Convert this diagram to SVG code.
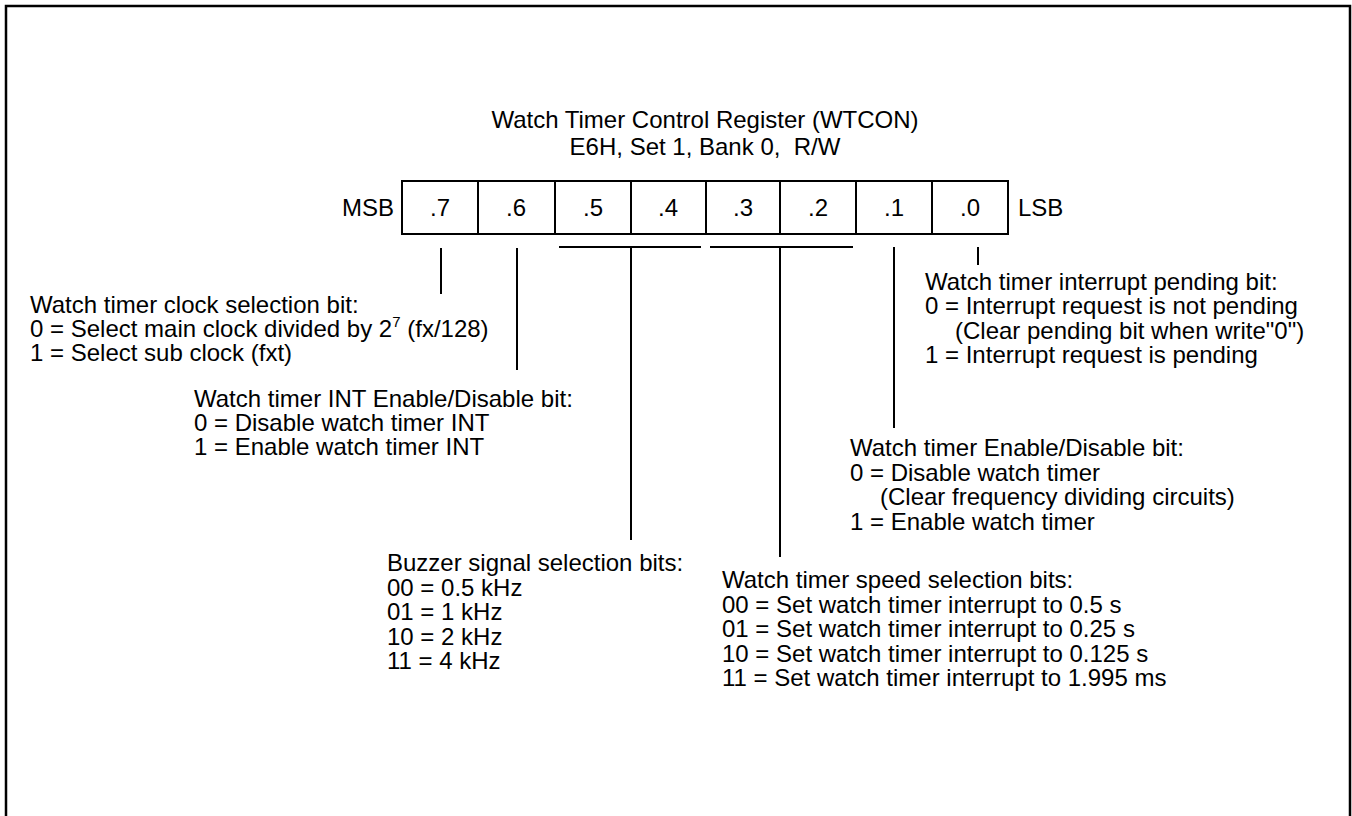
<svg xmlns="http://www.w3.org/2000/svg" width="1352" height="816" viewBox="0 0 1352 816">
<style>
text{font-family:"Liberation Sans",Arial,Helvetica,sans-serif;font-size:24px;fill:#000}
.c{text-anchor:middle}
.ln{stroke:#000;stroke-width:2;fill:none}
.frame{stroke:#000;stroke-width:2.5;fill:none}
.cell{stroke:#000;stroke-width:2;fill:#fff}
</style>
<rect width="1352" height="816" fill="#fff"/>
<path class="frame" d="M6,830 V6 H1350 V830"/>
<g id="title">
<text class="c" x="705" y="128">Watch Timer Control Register (WTCON)</text>
<text class="c" x="705" y="155" xml:space="preserve">E6H, Set 1, Bank 0,  R/W</text>
</g>
<g id="register">
<rect class="cell" x="402" y="181" width="606" height="53"/>
<path class="ln" d="M478,181V234M555,181V234M631,181V234M706,181V234M780,181V234M856,181V234M932,181V234"/>
<text x="342" y="216">MSB</text>
<text class="c" x="440" y="216">.7</text>
<text class="c" x="516" y="216">.6</text>
<text class="c" x="593" y="216">.5</text>
<text class="c" x="668" y="216">.4</text>
<text class="c" x="743" y="216">.3</text>
<text class="c" x="818" y="216">.2</text>
<text class="c" x="894" y="216">.1</text>
<text class="c" x="970" y="216">.0</text>
<text x="1018" y="216">LSB</text>
</g>
<g id="connectors">
<path class="ln" d="M441,248V294"/>
<path class="ln" d="M517,248V370"/>
<path class="ln" d="M559,247H701M631,247V540"/>
<path class="ln" d="M710,247H853M780,247V557"/>
<path class="ln" d="M894,247V428"/>
<path class="ln" d="M978,247V265"/>
</g>
<g id="bit7">
<text x="30" y="313">Watch timer clock selection bit:</text>
<text x="30" y="337">0 = Select main clock divided by 2<tspan font-size="15" dy="-10">7</tspan><tspan dy="10"> (fx/128)</tspan></text>
<text x="30" y="361">1 = Select sub clock (fxt)</text>
</g>
<g id="bit6">
<text x="194" y="407">Watch timer INT Enable/Disable bit:</text>
<text x="194" y="431">0 = Disable watch timer INT</text>
<text x="194" y="455">1 = Enable watch timer INT</text>
</g>
<g id="bits54">
<text x="387" y="571">Buzzer signal selection bits:</text>
<text x="387" y="595.5">00 = 0.5 kHz</text>
<text x="387" y="620">01 = 1 kHz</text>
<text x="387" y="644.5">10 = 2 kHz</text>
<text x="387" y="669">11 = 4 kHz</text>
</g>
<g id="bits32">
<text x="722" y="588">Watch timer speed selection bits:</text>
<text x="722" y="612.5">00 = Set watch timer interrupt to 0.5 s</text>
<text x="722" y="637">01 = Set watch timer interrupt to 0.25 s</text>
<text x="722" y="661.5">10 = Set watch timer interrupt to 0.125 s</text>
<text x="722" y="686">11 = Set watch timer interrupt to 1.995 ms</text>
</g>
<g id="bit1">
<text x="850" y="456">Watch timer Enable/Disable bit:</text>
<text x="850" y="480.5">0 = Disable watch timer</text>
<text x="880" y="505">(Clear frequency dividing circuits)</text>
<text x="850" y="529.5">1 = Enable watch timer</text>
</g>
<g id="bit0">
<text x="925" y="290">Watch timer interrupt pending bit:</text>
<text x="925" y="314">0 = Interrupt request is not pending</text>
<text x="955" y="339">(Clear pending bit when write"0")</text>
<text x="925" y="363">1 = Interrupt request is pending</text>
</g>
</svg>
